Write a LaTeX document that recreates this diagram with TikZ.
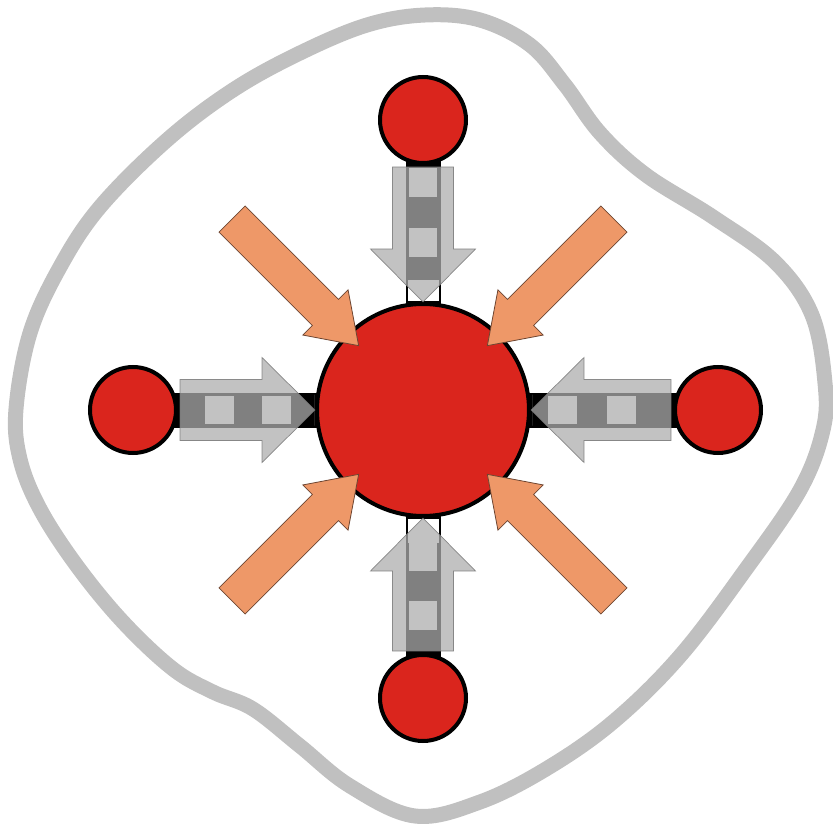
\documentclass[tikz,border=0pt]{standalone}
\usetikzlibrary{backgrounds}
\definecolor{ballred}{RGB}{218,37,29}
\definecolor{pushorange}{RGB}{238,152,104}
\definecolor{pushedge}{RGB}{110,70,50}
\definecolor{ringgray}{RGB}{192,192,192}
\definecolor{arrowgray}{RGB}{173,173,173}
\begin{document}
\begin{tikzpicture}[
   x=1pt,y=-1pt,
   ball/.style={circle,draw=black,line width=4pt,fill=ballred,inner sep=0pt,minimum size=86pt},
   core/.style={ball,minimum size=212pt},
   ring/.style={ringgray,line width=15pt},
   rod/.style={black,line width=35pt},
   hole/.style={fill=white},
   gpush/.style={fill=arrowgray,fill opacity=0.74,draw=black!55,draw opacity=0.8,line width=0.7pt},
   opush/.style={fill=pushorange,draw=pushedge,line width=0.8pt,line join=miter}
 ]
  \useasboundingbox (0,0) rectangle (833,829);
  \node[core] (hub) at (423,410) {};
  \node[ball] (ballN) at (423,120) {};
  \node[ball] (ballW) at (133,410) {};
  \node[ball] (ballE) at (718,410) {};
  \node[ball] (ballS) at (423,698) {};

  \begin{pgfonlayer}{background}
    \draw[ring] plot[smooth cycle,tension=0.6] coordinates {
      (425,15) (480,20) (530,45) (565,85) (600,133) (646,175) (713,217)
      (775,262) (812,315) (825,383) (823,430) (800,490) (746,569) (680,656)
      (613,722) (546,769) (480,802) (415,816) (350,786) (300,746) (253,709)
      (213,692) (173,669) (123,622) (77,566) (40,509) (20,459) (16,409)
      (30,333) (60,267) (100,207) (167,140) (233,90) (300,53) (367,25)};
    \foreach \n in {ballN,ballW,ballE,ballS}
      \draw[rod] (\n.center) -- (hub.center);
  \end{pgfonlayer}

  % chains with the grey push arrows
  \foreach \n/\ang/\d/\pa/\pb/\w in {ballN/-90/290/48/108/160,ballW/0/290/72/129/181,
                                     ballE/180/295/82/141/186,ballS/90/288/68/127/155} {
    \begin{scope}[shift={(\n.center)},rotate=\ang]
      \fill[hole] (\pa,-14) rectangle ++(29,28);
      \fill[hole] (\pb,-14) rectangle ++(29,28);
      \fill[hole] (\w,-15.5) rectangle (\d-109,15.5);
      \filldraw[gpush] (47,-30.5) -- (\d-161,-30.5) -- (\d-161,-52.5) -- (\d-108,0)
        -- (\d-161,52.5) -- (\d-161,30.5) -- (47,30.5) -- cycle;
    \end{scope}
  }

  % outer pressure
  \foreach \ang in {45,135,225,315}
    \draw[opush,shift={(hub.center)},rotate=\ang] (270,-18.5) -- (138,-18.5) -- (138,-32)
      -- (91,0) -- (138,32) -- (138,18.5) -- (270,18.5) -- cycle;
\end{tikzpicture}
\end{document}
